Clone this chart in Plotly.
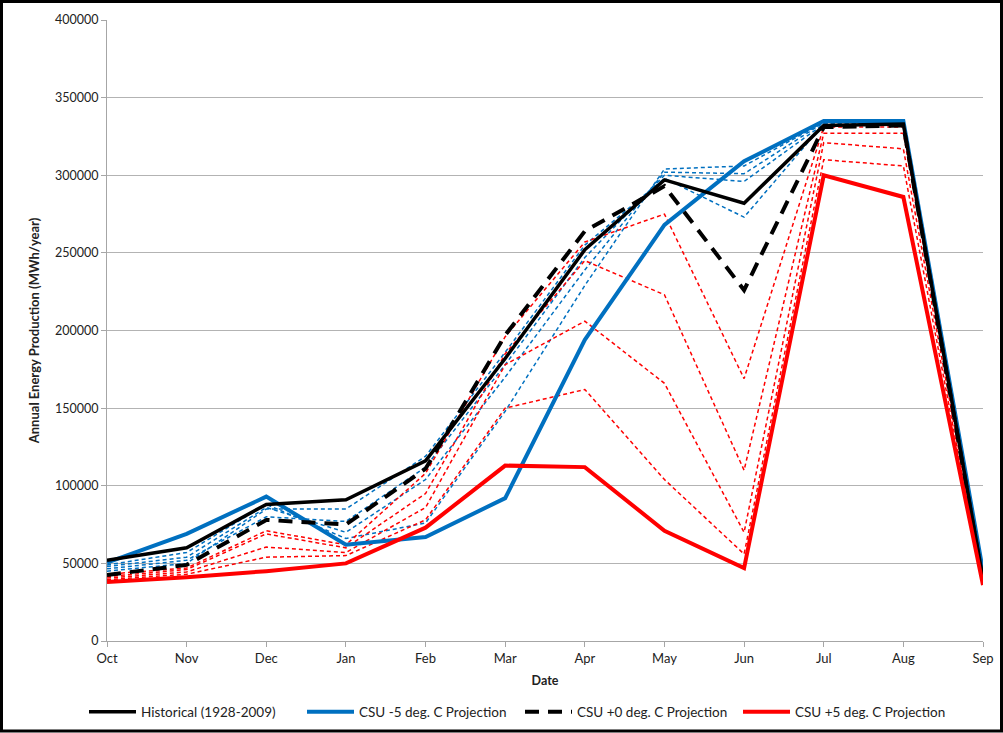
import plotly.graph_objects as go

months = ["Oct", "Nov", "Dec", "Jan", "Feb", "Mar", "Apr", "May", "Jun", "Jul", "Aug", "Sep"]

historical = [52000, 60000, 88000, 91000, 116000, 182000, 252000, 297000, 282000, 332000, 333000, 40000]
csu_m5 = [50500, 69000, 93000, 62000, 67000, 92000, 194000, 268000, 309000, 335000, 335000, 45000]
csu_p0 = [42500, 49000, 78000, 75000, 111000, 197000, 264000, 293000, 226000, 331000, 332000, 38000]
csu_p5 = [38000, 41000, 45000, 50000, 73000, 113000, 112000, 71000, 47000, 300000, 286000, 36000]

csu_m4 = [49000, 57000, 88000, 66000, 76000, 148000, 229000, 304000, 306000, 334000, 334000, 44000]
csu_m3 = [48000, 54000, 86000, 70000, 104000, 170000, 239000, 302000, 301000, 334000, 334000, 43000]
csu_m2 = [46500, 52000, 80000, 77000, 112000, 178000, 247000, 300000, 296000, 333000, 333000, 42000]
csu_m1 = [45000, 50000, 85000, 85000, 119000, 186000, 255000, 298000, 273000, 333000, 333000, 41000]

csu_p1 = [43000, 47000, 71000, 62000, 108000, 196000, 257000, 275000, 169000, 331000, 331000, 40000]
csu_p2 = [41500, 46000, 69000, 60000, 95000, 185000, 245000, 223000, 110000, 327000, 327000, 39000]
csu_p3 = [40500, 44500, 60500, 57000, 86000, 178000, 206000, 166000, 70000, 321000, 317000, 38000]
csu_p4 = [39500, 43000, 54000, 55000, 78000, 150000, 162000, 104000, 56000, 310000, 306000, 37000]

y_ticks = [0, 50000, 100000, 150000, 200000, 250000, 300000, 350000, 400000]

BLUE = "#0070C0"
RED = "#FF0000"
FONT = "Lato"

fig = go.Figure()

for ys in [csu_m4, csu_m3, csu_m2, csu_m1]:
    fig.add_trace(go.Scatter(x=months, y=ys, mode="lines", showlegend=False,
                             line=dict(color=BLUE, width=1.5, dash="4px,3px")))
for ys in [csu_p1, csu_p2, csu_p3, csu_p4]:
    fig.add_trace(go.Scatter(x=months, y=ys, mode="lines", showlegend=False,
                             line=dict(color=RED, width=1.5, dash="4px,3px")))

fig.add_trace(go.Scatter(x=months, y=csu_m5, mode="lines", name="CSU -5 deg. C Projection",
                         legendrank=2, line=dict(color=BLUE, width=4)))
fig.add_trace(go.Scatter(x=months, y=historical, mode="lines", name="Historical (1928-2009)",
                         legendrank=1, line=dict(color="black", width=3.5)))
fig.add_trace(go.Scatter(x=months, y=csu_p0, mode="lines", name="CSU +0 deg. C Projection",
                         legendrank=3, line=dict(color="black", width=4, dash="14px,9px")))
fig.add_trace(go.Scatter(x=months, y=csu_p5, mode="lines", name="CSU +5 deg. C Projection",
                         legendrank=4, line=dict(color=RED, width=4)))

W, H = 1003, 733
L, R, T, B = 107, 20, 20, 92
pw, ph = W - L - R, H - T - B

def px(x):
    return (x - L) / pw

def py(y):
    return (H - B - y) / ph

fig.update_layout(
    autosize=True,
    margin=dict(l=L, r=R, t=T, b=B, autoexpand=False),
    paper_bgcolor="white", plot_bgcolor="white",
    font=dict(family=FONT, size=13, color="#222"),
    showlegend=True,
    legend=dict(orientation="h", x=px(84), xanchor="left", y=py(712), yanchor="middle",
                font=dict(family=FONT, size=13.5, color="#222"),
                entrywidth=156, entrywidthmode="pixels", itemwidth=47,
                traceorder="normal"),
    xaxis=dict(type="category", range=[0, 11], showgrid=False,
               showline=True, linecolor="#a6a6a6", linewidth=1,
               ticks="outside", ticklen=5, tickcolor="#a6a6a6",
               tickfont=dict(family=FONT, size=13, color="#222"),
               title=dict(text="<b>Date</b>", font=dict(family=FONT, size=12.5, color="#222"), standoff=11)),
    yaxis=dict(range=[0, 400000], tickvals=y_ticks, ticktext=[str(v) for v in y_ticks],
               showgrid=True, gridcolor="#b3b3b3", gridwidth=1,
               showline=True, linecolor="#a6a6a6", linewidth=1,
               ticks="outside", ticklen=5, tickcolor="#a6a6a6",
               tickfont=dict(family=FONT, size=12.5, color="#222"), zeroline=False,
               title=dict(text="<b>Annual Energy Production (MWh/year)</b>",
                          font=dict(family=FONT, size=13, color="#222"), standoff=12)),
    shapes=[dict(type="rect", xref="paper", yref="paper",
                 x0=px(1.5), x1=px(1001.5), y0=py(731), y1=py(1.5),
                 line=dict(color="black", width=3), fillcolor="rgba(0,0,0,0)", layer="above")],
)

fig.write_html("out.html",
               default_width="100vw", default_height="100vh",
               config={"displayModeBar": False, "responsive": True},
               post_script="document.body.style.margin='0';document.body.style.padding='0';"
                           "document.body.style.overflow='hidden';")
